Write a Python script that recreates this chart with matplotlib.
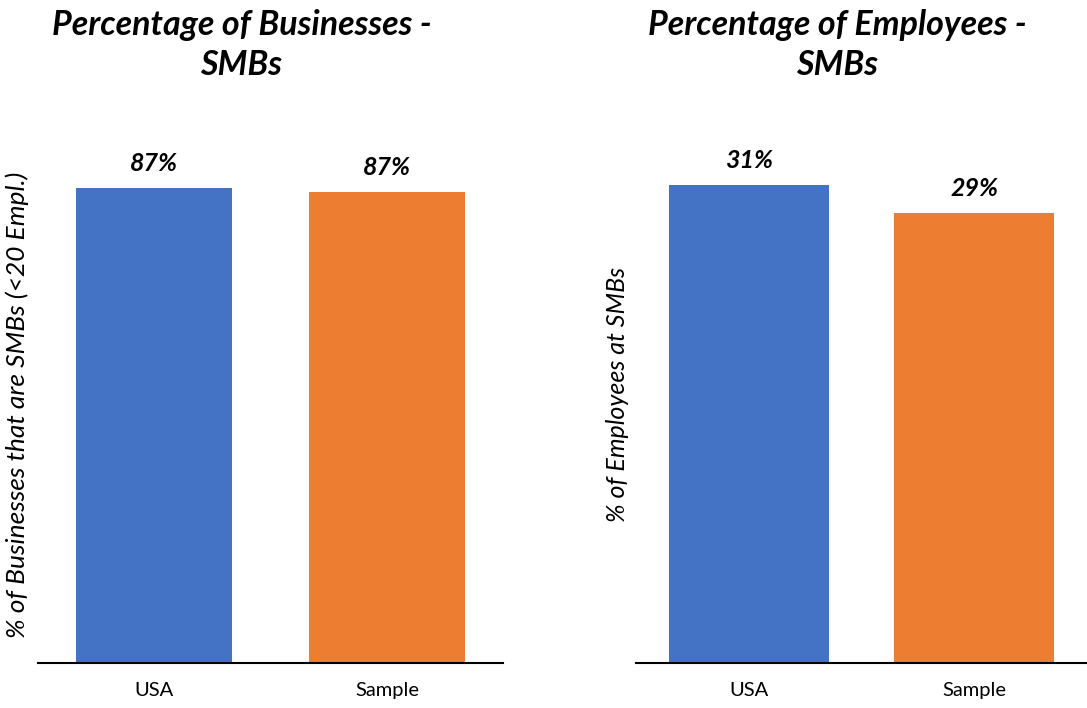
import matplotlib.pyplot as plt

plt.rcParams['font.family'] = ['Lato', 'DejaVu Sans']

categories = ['USA', 'Sample']
business_pct = [87.4, 86.7]
employee_pct = [30.8, 29.0]

colours = ['#4472C4', '#ED7D31']

fig = plt.figure(figsize=(10.87, 7.08), dpi=100)


def smb_bars(ax, values, ymax, title, ylabel, title_x, width, ylabel_size):
    ax.bar(categories, values, width=width, color=colours)
    ax.set_ylim(0, ymax)
    ax.set_xlim(-0.5, 1.5)
    for i, v in enumerate(values):
        ax.annotate('{:.0f}%'.format(v), (i, v), xytext=(0, 18), textcoords='offset points',
                    ha='center', va='center', fontsize=18, fontweight='bold', fontstyle='italic')
    for side in ['top', 'right', 'left']:
        ax.spines[side].set_visible(False)
    ax.spines['bottom'].set_linewidth(1.5)
    ax.set_yticks([])
    ax.tick_params(axis='x', length=0, labelsize=14.5, pad=14)
    ax.set_ylabel(ylabel, fontsize=ylabel_size, fontstyle='italic')
    fig.text(title_x, 0.987, title, ha='center', va='top', fontsize=24.5,
             fontweight='bold', fontstyle='italic', linespacing=1.3)


ax1 = fig.add_axes([0.035, 0.0636, 0.428, 0.767])
smb_bars(ax1, business_pct, 100, 'Percentage of Businesses -\nSMBs',
         '% of Businesses that are SMBs (<20 Empl.)', 0.222, 0.67, 19)
ax1.yaxis.set_label_coords(-0.02, 0.475)

ax2 = fig.add_axes([0.585, 0.0636, 0.415, 0.767])
smb_bars(ax2, employee_pct, 35, 'Percentage of Employees -\nSMBs',
         '% of Employees at SMBs', 0.77, 0.71, 18)
ax2.yaxis.set_label_coords(-0.016, 0.494)

fig.savefig('out.png', dpi=100)
